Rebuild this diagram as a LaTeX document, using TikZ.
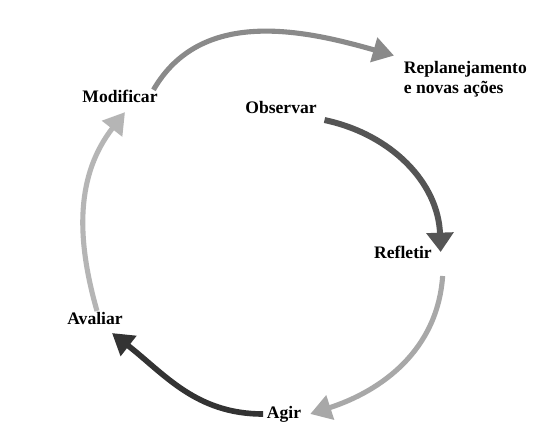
\documentclass[tikz,border=0pt]{standalone}
\usepackage{fontspec}
\setmainfont{Liberation Serif}
\usetikzlibrary{arrows.meta}
\definecolor{graymid}{HTML}{8A8A8A}
\definecolor{graydark}{HTML}{555555}
\definecolor{graylight}{HTML}{A8A8A8}
\definecolor{grayblack}{HTML}{333333}
\definecolor{graypale}{HTML}{B5B5B5}
\tikzset{
  step label/.style={font=\fontsize{10}{11.5}\selectfont\bfseries, inner sep=2pt},
  cycle arrow/.style={line width=2.9pt, -{Triangle[width=14pt,length=12pt]}},
}
\begin{document}
\begin{tikzpicture}
    \useasboundingbox[fill=white] (0,0) rectangle (10.72,8.52);
    % etapas do ciclo
    \node[step label] (mod) at (2.40,6.60) {Modificar};
    \node[step label] (obs) at (5.62,6.38) {Observar};
    \node[step label,align=left,anchor=west] (rep) at (8.00,6.93) {Replanejamento\\e novas ações};
    \node[step label] (ref) at (8.06,3.48) {Refletir};
    \node[step label] (ava) at (1.90,2.16) {Avaliar};
    \node[step label] (agi) at (5.68,0.24) {Agir};
    % setas
    \draw[cycle arrow,graymid] ([shift={(-0.16,-0.08)}]mod.north east) to[out=60,in=164] ([shift={(-0.12,0.04)}]rep.north west);
    \draw[cycle arrow,graydark,line width=3.4pt,-{Triangle[width=15pt,length=11pt]}] ([shift={(0.08,-0.06)}]obs.south east) to[out=-12,in=92] ([shift={(0.1,0)}]ref.east);
    \draw[cycle arrow,graylight] ([shift={(0.14,-0.48)}]ref.east) to[out=-94,in=18] ([xshift=3pt]agi.east);
    \draw[cycle arrow,grayblack,line width=3.2pt] (agi.west) to[out=180,in=-38] ([shift={(0.34,-0.1)}]ava.south);
    \draw[cycle arrow,graypale] ([shift={(0.04,-0.06)}]ava.north) to[out=106,in=-128] ([shift={(0.1,-0.12)}]mod.south);
\end{tikzpicture}
\end{document}
